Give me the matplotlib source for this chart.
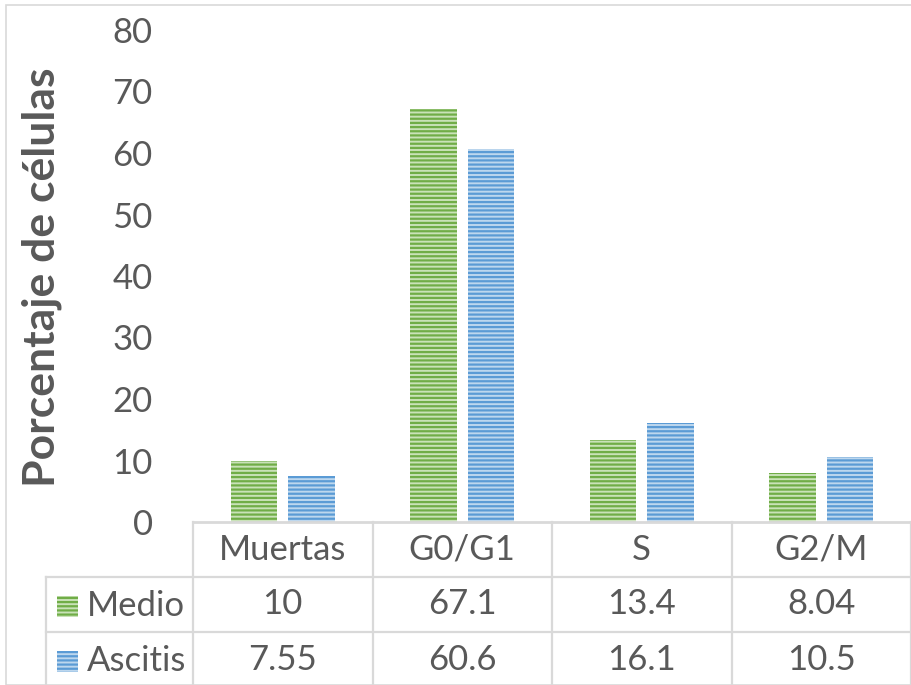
"""Cell cycle distribution: Medio vs Ascitis, bar chart with data table."""

import matplotlib.pyplot as plt
from matplotlib.patches import Rectangle
from matplotlib.transforms import blended_transform_factory

plt.rcParams["font.family"] = ["Lato", "DejaVu Sans"]
plt.rcParams["hatch.linewidth"] = 1.6

categories = ["Muertas", "G0/G1", "S", "G2/M"]
medio = [10, 67.1, 13.4, 8.04]
ascitis = [7.55, 60.6, 16.1, 10.5]
medio_labels = ["10", "67.1", "13.4", "8.04"]
ascitis_labels = ["7.55", "60.6", "16.1", "10.5"]
series_names = ["Medio", "Ascitis"]
yticks = [0, 10, 20, 30, 40, 50, 60, 70, 80]

W, H = 911, 685
TEXT = "#595959"
GRID = "#D9D9D9"
GREEN_FACE, GREEN_LINE = "#C9E2B8", "#70AD47"
BLUE_FACE, BLUE_LINE = "#BDD7EE", "#5B9BD5"

fig = plt.figure(figsize=(W / 100, H / 100), dpi=100)

# outer chart frame
fig.patches.append(Rectangle((6 / W, 0), 2, 1 - 5 / H, transform=fig.transFigure,
                             fill=False, edgecolor=GRID, lw=1.2))

ax = fig.add_axes([193 / W, 1 - 522 / H, 718 / W, 492 / H])
x = list(range(len(categories)))
bw, off = 0.26, 0.16
ax.bar([i - off for i in x], medio, bw, color=GREEN_FACE, edgecolor=GREEN_LINE,
       linewidth=0, hatch="----")
ax.bar([i + off for i in x], ascitis, bw, color=BLUE_FACE, edgecolor=BLUE_LINE,
       linewidth=0, hatch="----")

ax.set_xlim(-0.5, len(categories) - 0.5)
ax.set_ylim(0, 80)
ax.set_yticks(yticks)
ax.set_xticks([])
ax.tick_params(axis="y", length=0, pad=29, labelsize=25, labelcolor=TEXT)
for s in ["top", "right", "left"]:
    ax.spines[s].set_visible(False)
ax.spines["bottom"].set_color(GRID)
ax.spines["bottom"].set_linewidth(2)

ax.set_ylabel("Porcentaje de células", fontsize=32, fontweight="bold",
              color=TEXT, va="center")
ax.yaxis.set_label_coords(-151 / 718, 0.497)

# data table under the plot
tr = blended_transform_factory(ax.transData, ax.transAxes)
rh = 55 / 492
left = -0.5 - 148 / 180.5
bottom = -3.2 * rh
lkw = dict(color=GRID, lw=1.6, transform=tr, clip_on=False)
for b in [i - 0.5 for i in range(len(categories) + 1)]:
    ax.plot([b, b], [0, bottom], **lkw)
ax.plot([left, left], [-rh, bottom], **lkw)
for r in [1, 2]:
    ax.plot([left, len(categories) - 0.5], [-r * rh, -r * rh], **lkw)

tkw = dict(transform=tr, ha="center", va="center", fontsize=25, color=TEXT)
for i, cat in enumerate(categories):
    ax.text(i, -0.5 * rh, cat, **tkw)
    ax.text(i, -1.5 * rh, medio_labels[i], **tkw)
    ax.text(i, -2.5 * rh, ascitis_labels[i], **tkw)

# series keys in the row headers
for r, (name, face, line) in enumerate(zip(series_names, [GREEN_FACE, BLUE_FACE],
                                           [GREEN_LINE, BLUE_LINE])):
    yc = 606 + r * 55
    fig.patches.append(Rectangle((57 / W, 1 - (yc + 10.5) / H), 21 / W, 21 / H,
                                 transform=fig.transFigure, facecolor=face,
                                 edgecolor=line, linewidth=0, hatch="----"))
    fig.text(87 / W, 1 - yc / H, name, ha="left", va="center", fontsize=25,
             color=TEXT)

fig.savefig("out.png", dpi=100)
